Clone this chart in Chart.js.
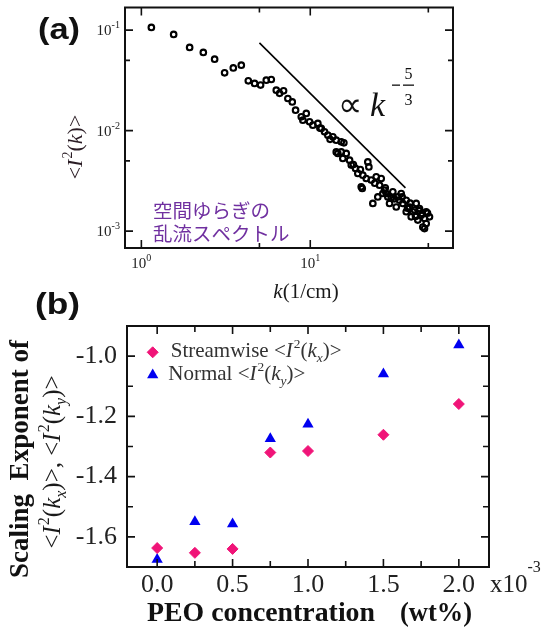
<!DOCTYPE html>
<html>
<head>
<meta charset="utf-8">
<script src="https://cdn.jsdelivr.net/npm/chart.js@4"></script>
<style>
  html, body { margin: 0; padding: 0; background: #fff; }
  #wrap { position: relative; width: 549px; height: 629px; overflow: hidden; background: #fff; }
  .panel { position: absolute; left: 0; }
</style>
</head>
<body>
<div id="wrap">
  <div class="panel" style="top:0"><canvas id="chartA" width="549" height="310"></canvas></div>
  <div class="panel" style="top:280px"><canvas id="chartB" width="549" height="349"></canvas></div>
</div>
<script>
const SERIF = '"Liberation Serif", "Times New Roman", serif';
const SANS = '"Liberation Sans", Arial, sans-serif';
const CJK = '"Noto Sans CJK JP", sans-serif';

// (a) spatial fluctuation spectrum
const spectrumK = [1.146, 1.553, 1.931, 2.327, 2.715, 3.111, 3.502, 3.905, 4.297, 4.682,
  5.080, 5.490, 5.877, 6.292, 6.581, 6.950, 7.369, 7.825, 8.186, 8.847,
  9.469, 9.041, 9.906, 10.36, 11.09, 11.62, 12.15, 12.71, 13.61, 14.25,
  15.26, 14.56, 15.26, 16.33, 15.59, 17.09, 17.49, 18.54, 19.13, 20.47,
  21.92, 22.23, 20.03, 21.45, 22.96, 24.58, 26.31, 25.71, 27.52, 23.47,
  25.12, 26.89, 28.79, 29.47, 30.82, 33.00, 34.55, 32.29, 35.31, 37.00,
  38.68, 40.47, 42.39, 44.34, 45.39, 47.47, 48.58, 50.80, 37.00, 39.59,
  43.33, 46.39, 48.58, 47.47, 15.81, 14.25, 28.17, 30.16, 33.76, 37.65,
  41.42, 49.45, 20.31, 35.0, 39.0, 44.0, 31.5, 42.0, 46.0, 27.8,
  24.1, 18.0, 19.8, 13.1, 11.4];
const spectrumI = [0.1064, 0.0906, 0.0673, 0.0600, 0.0514, 0.0376, 0.0421, 0.0448, 0.0313, 0.0295,
  0.0284, 0.0318, 0.0323, 0.0253, 0.0235, 0.0249, 0.0209, 0.0193, 0.0160, 0.01372,
  0.01483, 0.01272, 0.01224, 0.01134, 0.01179, 0.01052, 0.00973, 0.00902, 0.00868, 0.00804,
  0.00774, 0.00593, 0.00615, 0.00593, 0.00529, 0.00509, 0.00454, 0.00421, 0.00375, 0.00361,
  0.00489, 0.00436, 0.00276, 0.00334, 0.00322, 0.00347, 0.00334, 0.00287, 0.00256, 0.00189,
  0.00219, 0.00237, 0.00219, 0.00189, 0.00246, 0.00219, 0.00237, 0.00174, 0.00189, 0.00203,
  0.00174, 0.00156, 0.00189, 0.00168, 0.00144, 0.00134, 0.00156, 0.00139, 0.00156, 0.00139,
  0.00129, 0.00110, 0.00119, 0.00106, 0.00756, 0.00615, 0.00237, 0.00213, 0.00203, 0.00169,
  0.00162, 0.00151, 0.00266, 0.0022, 0.0019, 0.0016, 0.0021, 0.0014, 0.0015, 0.0027,
  0.0030, 0.0046, 0.0041, 0.0082, 0.0106];
const slopeK = [5.0, 36.6];
const slopeI = [0.0747, 0.0027];
const kTicks = [1, 10];
const kTickExp = ['0', '1'];
const kMinor = [5, 50];
const iTicks = [0.1, 0.01, 0.001];
const iTickExp = ['-1', '-2', '-3'];
const iMinor = [0.05, 0.005];

// (b) scaling exponent vs PEO concentration (x10^-3 wt%)
const peoConc = [0, 0.25, 0.5, 0.75, 1.0, 1.5, 2.0];
const streamwiseExp = [-1.637, -1.653, -1.640, -1.320, -1.315, -1.261, -1.159];
const normalExp = [-1.675, -1.550, -1.557, -1.274, -1.226, -1.059, -0.963];
const concTicks = [0, 0.5, 1.0, 1.5, 2.0];
const concLabels = ['0.0', '0.5', '1.0', '1.5', '2.0'];
const concMinor = [0.25, 0.75, 1.25, 1.75];
const expTicks = [-1.0, -1.2, -1.4, -1.6];
const expLabels = ['-1.0', '-1.2', '-1.4', '-1.6'];
const expMinor = [-1.1, -1.3, -1.5];

const PINK = '#f01478';
const BLUE = '#0000f0';

// draws mixed serif runs: {t, i:italic, s:scale, dy:offset in em}
function rich(ctx, parts, x, y, size, opt = {}) {
  ctx.save();
  ctx.translate(x, y);
  if (opt.rot) ctx.rotate(opt.rot);
  const font = p => (opt.bold ? 'bold ' : '') + (p.i ? 'italic ' : '') + (size * (p.s || 1)).toFixed(1) + 'px ' + SERIF;
  let w = 0;
  for (const p of parts) { ctx.font = font(p); w += ctx.measureText(p.t).width + (p.k || 0); }
  let cx = opt.align === 'center' ? -w / 2 : opt.align === 'right' ? -w : 0;
  ctx.fillStyle = opt.color || '#1a1a1a';
  ctx.textAlign = 'left';
  ctx.textBaseline = 'alphabetic';
  for (const p of parts) {
    ctx.font = font(p);
    ctx.fillText(p.t, cx, (p.dy || 0) * size);
    cx += ctx.measureText(p.t).width + (p.k || 0);
  }
  ctx.restore();
}
const sup = t => ({ t, s: 0.64, dy: -0.45 });
const sub = t => ({ t, i: 1, s: 0.64, dy: 0.22 });
const I2 = [{ t: 'I', i: 1, k: 1 }, sup('2')];

function fitText(ctx, t, x, y, font, width, align) {
  ctx.save();
  ctx.font = font;
  const w = ctx.measureText(t).width;
  ctx.translate(align === 'right' ? x - width : x, y);
  ctx.scale(width / w, 1);
  ctx.textAlign = 'left';
  ctx.textBaseline = 'alphabetic';
  ctx.fillText(t, 0, 0);
  ctx.restore();
}

function drawFrame(chart, xMaj, xMin, yMaj, yMin, majLen, minLen) {
  const { ctx, chartArea: a, scales: { x, y } } = chart;
  ctx.save();
  ctx.strokeStyle = '#111';
  ctx.lineWidth = 1.6;
  ctx.beginPath();
  const tx = (v, len) => {
    const p = x.getPixelForValue(v);
    ctx.moveTo(p, a.bottom); ctx.lineTo(p, a.bottom - len);
    ctx.moveTo(p, a.top); ctx.lineTo(p, a.top + len);
  };
  const ty = (v, len) => {
    const p = y.getPixelForValue(v);
    ctx.moveTo(a.left, p); ctx.lineTo(a.left + len, p);
    ctx.moveTo(a.right, p); ctx.lineTo(a.right - len, p);
  };
  xMaj.forEach(v => tx(v, majLen)); xMin.forEach(v => tx(v, minLen));
  yMaj.forEach(v => ty(v, majLen)); yMin.forEach(v => ty(v, minLen));
  ctx.stroke();
  ctx.lineWidth = 2;
  ctx.strokeRect(a.left, a.top, a.right - a.left, a.bottom - a.top);
  ctx.restore();
}

const panelA = {
  id: 'panelA',
  afterDraw(chart) {
    const { ctx, chartArea: a, scales: { x, y } } = chart;
    drawFrame(chart, kTicks, kMinor, iTicks, iMinor, 8, 5);
    kTicks.forEach((v, i) => {
      rich(ctx, [{ t: '10' }, { t: kTickExp[i], s: 0.67, dy: -0.47 }], x.getPixelForValue(v), a.bottom + 20, 15, { align: 'center', color: '#222' });
    });
    iTicks.forEach((v, i) => {
      rich(ctx, [{ t: '10' }, { t: iTickExp[i], s: 0.67, dy: -0.47 }], a.left - 5, y.getPixelForValue(v) + 5, 15, { align: 'right', color: '#222' });
    });
    rich(ctx, [{ t: 'k', i: 1 }, { t: '(1/cm)' }], 306, 298, 21, { align: 'center' });
    rich(ctx, [{ t: '<' }, ...I2, { t: '(' }, { t: 'k', i: 1 }, { t: ')' }, { t: '>' }], 82, 147, 22,
      { align: 'center', rot: -Math.PI / 2, color: '#2a1c24' });

    ctx.save();
    ctx.fillStyle = '#111';
    fitText(ctx, '(a)', 38, 39, 'bold 29px ' + SANS, 42);
    // power-law note
    ctx.font = '34px ' + SERIF;
    ctx.fillText('\u221D', 338, 116);
    ctx.font = 'italic 34px ' + SERIF;
    ctx.fillText('k', 370, 116);
    ctx.fillRect(392, 84.5, 8, 1.3);
    ctx.fillRect(403, 84.5, 11, 1.3);
    ctx.font = '16px ' + SERIF;
    ctx.textAlign = 'center';
    ctx.fillText('5', 408.5, 79);
    ctx.fillText('3', 408.5, 105);
    ctx.textAlign = 'left';
    ctx.fillStyle = '#7030a0';
    ctx.font = '19.5px ' + CJK;
    ctx.fillText('空間ゆらぎの', 153, 218);
    ctx.fillText('乱流スペクトル', 153, 241);
    ctx.restore();
  }
};

const panelB = {
  id: 'panelB',
  afterDraw(chart) {
    const { ctx } = chart;
    drawFrame(chart, concTicks, concMinor, expTicks, expMinor, 8, 6);
    ctx.save();
    ctx.fillStyle = '#111';
    fitText(ctx, '(b)', 35, 34, 'bold 30px ' + SANS, 45);
    // legend
    const H = Chart.helpers;
    ctx.fillStyle = PINK; ctx.strokeStyle = PINK;
    H.drawPoint(ctx, { pointStyle: 'rectRot', radius: 5.5, borderWidth: 1, rotation: 0 }, 152.7, 72.3);
    ctx.fillStyle = BLUE; ctx.strokeStyle = BLUE;
    H.drawPoint(ctx, { pointStyle: 'triangle', radius: 6.5, borderWidth: 0, rotation: 0 }, 152.7, 94.9);
    ctx.restore();
    rich(ctx, [{ t: 'Streamwise <' }, ...I2, { t: '(' }, { t: 'k', i: 1 }, sub('x'), { t: ')>' }], 170.7, 77, 21, { color: '#333' });
    rich(ctx, [{ t: 'Normal <' }, ...I2, { t: '(' }, { t: 'k', i: 1 }, sub('y'), { t: ')>' }], 168.3, 100, 21, { color: '#333' });
    // axis titles
    rich(ctx, [{ t: 'Scaling  Exponent of' }], 28, 179, 27, { align: 'center', rot: -Math.PI / 2, bold: true, color: '#111' });
    rich(ctx, [{ t: '<' }, ...I2, { t: '(' }, { t: 'k', i: 1 }, sub('x'), { t: ')>, <' }, ...I2, { t: '(' }, { t: 'k', i: 1 }, sub('y'), { t: ')>' }],
      60, 182, 25, { align: 'center', rot: -Math.PI / 2, color: '#1a1a1a' });
    ctx.save();
    ctx.fillStyle = '#111';
    fitText(ctx, 'PEO concentration', 147, 341, 'bold 27px ' + SERIF, 228);
    fitText(ctx, '(wt%)', 472, 341, 'bold 27px ' + SERIF, 72, 'right');
    ctx.restore();
    rich(ctx, [{ t: 'x10' }, { t: '-3', s: 0.64, dy: -0.78 }], 490, 311.7, 25, { color: '#222' });
  }
};

new Chart(document.getElementById('chartA'), {
  type: 'scatter',
  data: {
    datasets: [
      {
        data: spectrumK.map((k, i) => ({ x: k, y: spectrumI[i] })),
        pointStyle: 'circle', pointRadius: 2.8, pointBorderWidth: 2.1,
        pointBorderColor: '#000', pointBackgroundColor: 'rgba(255,255,255,0)'
      },
      {
        data: slopeK.map((k, i) => ({ x: k, y: slopeI[i] })),
        showLine: true, borderColor: '#000', borderWidth: 1.6, pointRadius: 0, fill: false
      }
    ]
  },
  options: {
    responsive: false, animation: false, devicePixelRatio: 1,
    layout: { padding: { top: 7.5, right: 96, bottom: 0, left: 0 } },
    plugins: { legend: { display: false }, tooltip: { enabled: false } },
    scales: {
      x: {
        type: 'logarithmic', min: 0.8, max: 70,
        grid: { display: false, drawTicks: false }, border: { display: false },
        ticks: { display: false },
        afterBuildTicks: s => { s.ticks = kTicks.map(v => ({ value: v })); },
        afterFit: s => { s.height = 62; }
      },
      y: {
        type: 'logarithmic', min: 6.8e-4, max: 0.168,
        grid: { display: false, drawTicks: false }, border: { display: false },
        ticks: { display: false },
        afterBuildTicks: s => { s.ticks = iTicks.map(v => ({ value: v })); },
        afterFit: s => { s.width = 125; }
      }
    }
  },
  plugins: [panelA]
});

new Chart(document.getElementById('chartB'), {
  type: 'scatter',
  data: {
    datasets: [
      {
        label: 'Streamwise',
        data: peoConc.map((c, i) => ({ x: c, y: streamwiseExp[i] })),
        pointStyle: 'rectRot', pointRadius: 5.5, pointBorderWidth: 1,
        pointBorderColor: PINK, pointBackgroundColor: PINK
      },
      {
        label: 'Normal',
        data: peoConc.map((c, i) => ({ x: c, y: normalExp[i] })),
        pointStyle: 'triangle', pointRadius: 6.5, pointBorderWidth: 0,
        pointBorderColor: BLUE, pointBackgroundColor: BLUE
      }
    ]
  },
  options: {
    responsive: false, animation: false, devicePixelRatio: 1,
    layout: { padding: { top: 46, right: 60, bottom: 0, left: 0 } },
    plugins: { legend: { display: false }, tooltip: { enabled: false } },
    scales: {
      x: {
        type: 'linear', min: -0.2, max: 2.2,
        grid: { display: false, drawTicks: false }, border: { display: false },
        ticks: {
          autoSkip: false, maxRotation: 0, padding: 3, color: '#222',
          font: { family: SERIF, size: 26, lineHeight: 1.2 },
          callback: (v, i) => concLabels[i]
        },
        afterBuildTicks: s => { s.ticks = concTicks.map(v => ({ value: v })); },
        afterFit: s => { s.height = 62; }
      },
      y: {
        type: 'linear', min: -1.7, max: -0.9,
        grid: { display: false, drawTicks: false }, border: { display: false },
        ticks: {
          autoSkip: false, padding: 10, color: '#222',
          font: { family: SERIF, size: 26, lineHeight: 1.2 },
          callback: (v, i) => expLabels[i]
        },
        afterBuildTicks: s => { s.ticks = expTicks.map(v => ({ value: v })); },
        afterFit: s => { s.width = 127; }
      }
    }
  },
  plugins: [panelB]
});
</script>
</body>
</html>
